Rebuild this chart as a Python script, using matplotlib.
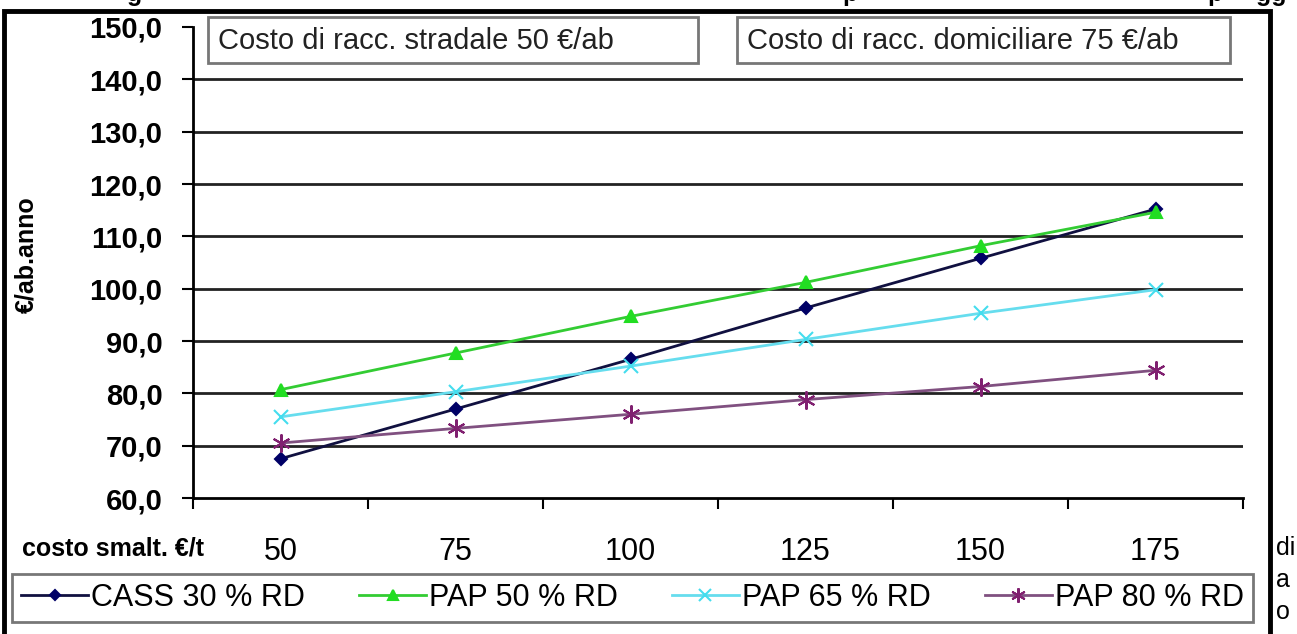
import matplotlib
matplotlib.use("Agg")
import matplotlib.pyplot as plt
from matplotlib.patches import Rectangle
from matplotlib.ticker import FixedLocator, NullFormatter

plt.rcParams["font.family"] = ["Liberation Sans", "DejaVu Sans"]

# ---- dati ----
costo_smalt = ["50", "75", "100", "125", "150", "175"]
cass_30 = [67.5, 77.0, 86.5, 96.3, 105.8, 115.2]
pap_50 = [80.7, 87.7, 94.7, 101.2, 108.2, 114.6]
pap_65 = [75.5, 80.3, 85.2, 90.3, 95.3, 99.8]
pap_80 = [70.5, 73.3, 76.0, 78.8, 81.3, 84.4]
y_ticks = [60, 70, 80, 90, 100, 110, 120, 130, 140, 150]

W, H = 1297, 634
fig = plt.figure(figsize=(W / 100, H / 100), dpi=100)
fig.patch.set_facecolor("white")


def px(x0, y0, w, h):
    """rettangolo in pixel (origine in alto a sinistra) -> coordinate figura"""
    return (x0 / W, 1 - (y0 + h) / H, w / W, h / H)


# cornice esterna del grafico
fx, fy, fw, fh = px(4, 11, 1266, 660)
fig.patches.append(Rectangle((fx, fy), fw, fh, transform=fig.transFigure,
                             fill=False, edgecolor="black", lw=3.5, zorder=0))

ax = fig.add_axes(px(193, 27, 1050, 471))
x = list(range(len(costo_smalt)))

series = [
    ("CASS 30 % RD", cass_30, "#000066", "D", 6, "#101040"),
    ("PAP 50 % RD", pap_50, "#22DD22", "^", 9, "#33CC33"),
    ("PAP 65 % RD", pap_65, "#44DDEE", "x", 10, "#66DDEE"),
    ("PAP 80 % RD", pap_80, "#802070", (6, 2, 0), 13, "#805080"),
]
for label, vals, mcol, mk, ms, lcol in series:
    ax.plot(x, vals, color=lcol, lw=2, marker=mk, ms=ms,
            markerfacecolor=mcol, markeredgecolor=mcol, mew=1.5,
            label=label, zorder=3)

# griglia orizzontale (senza la linea a 150)
for v in y_ticks[1:-1]:
    ax.axhline(v, color="#222222", lw=2, zorder=1)

ax.set_xlim(-0.5, len(costo_smalt) - 0.5)
ax.set_ylim(60, 150)
ax.set_yticks(y_ticks)
ax.set_yticklabels([f"{v},0" for v in y_ticks], fontsize=21, fontweight="bold")
ax.set_xticks(x)
ax.set_xticklabels(costo_smalt, fontsize=22)
ax.tick_params(axis="x", which="major", length=0, pad=28)
ax.xaxis.set_minor_locator(FixedLocator([i - 0.5 for i in range(len(x) + 1)]))
ax.xaxis.set_minor_formatter(NullFormatter())
ax.tick_params(axis="x", which="minor", length=8, width=1.5, direction="out")
ax.tick_params(axis="y", length=8, width=1.5, pad=14)

for s in ["top", "right"]:
    ax.spines[s].set_visible(False)
ax.spines["left"].set_linewidth(2)
ax.spines["bottom"].set_linewidth(2)

fig.text(26 / W, 1 - 255 / H, "€/ab.anno", fontsize=18, fontweight="bold",
         rotation=90, va="center", ha="center")

fig.text(22 / W, 1 - 549 / H, "costo smalt. €/t", fontsize=18,
         fontweight="bold", va="center", ha="left")

# riquadri di testo
for bx, bw, txt in [(208, 490, "Costo di racc. stradale 50 €/ab"),
                    (737, 493, "Costo di racc. domiciliare 75 €/ab")]:
    rx, ry, rw, rh = px(bx, 17, bw, 46)
    fig.patches.append(Rectangle((rx, ry), rw, rh, transform=fig.transFigure,
                                 facecolor="white", edgecolor="#777777", lw=2,
                                 zorder=5))
    fig.text((bx + 10) / W, 1 - 41 / H, txt, fontsize=21, va="center",
             ha="left", color="#222222", zorder=6)

leg = fig.legend(loc="lower left", bbox_to_anchor=px(12, 572, 1241, 50),
                 mode="expand", ncol=4, fontsize=22, frameon=True, fancybox=False,
                 handlelength=2.2, handletextpad=0.1, borderpad=0.3,
                 borderaxespad=0, columnspacing=1.0, markerscale=0.8)
leg.get_frame().set_edgecolor("#555555")
leg.get_frame().set_linewidth(2)

# testo troncato a destra del grafico
for yy, t in [(548, "di"), (580, "a"), (612, "o")]:
    fig.text(1276 / W, 1 - yy / H, t, fontsize=18, va="center", ha="left")

# titolo tagliato in alto
for xx, t in [(127, "g"), (842, "p"), (1207, "p"), (1256, "gg")]:
    fig.text(xx / W, 1 - 1 / H, t, fontsize=18, fontweight="bold",
             va="baseline", ha="left")

fig.savefig("out.png", dpi=100)
